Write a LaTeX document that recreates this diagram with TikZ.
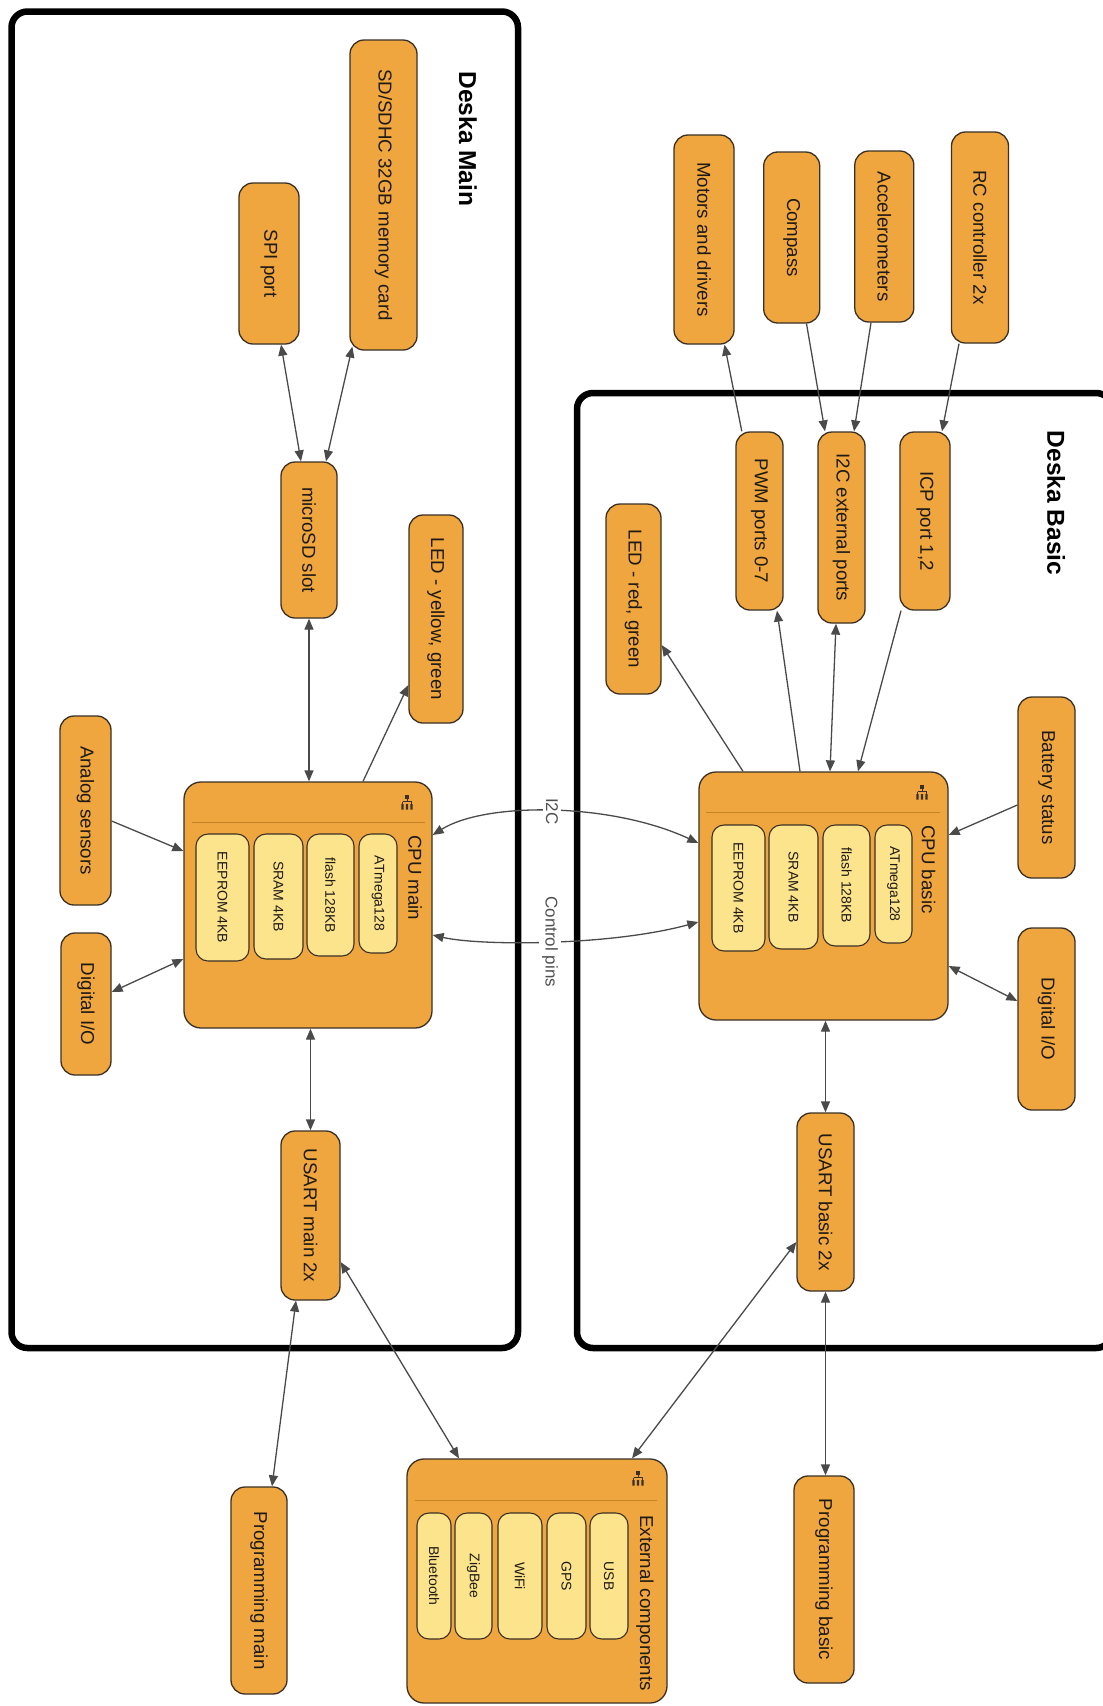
\documentclass[tikz,border=0pt]{standalone}
\usepackage{fontspec}
\setmainfont{Liberation Sans}
\usepackage{graphicx}
\usetikzlibrary{arrows.meta,calc}
\definecolor{orangef}{HTML}{EFA63E}
\definecolor{yellowf}{HTML}{FCE48C}
\definecolor{boxline}{HTML}{3A3026}
\definecolor{connc}{HTML}{4A4A4A}
\definecolor{sepc}{HTML}{C0832A}
\definecolor{lblc}{HTML}{505050}
\definecolor{textc}{HTML}{1E1A16}
\begin{document}
\begin{tikzpicture}[x=1pt,y=-1pt,
  obox/.style={draw=boxline, fill=orangef, rounded corners=14pt, line width=1.3pt, inner sep=0pt, text=textc, font=\fontsize{18.7}{20}\selectfont},
  bigbox/.style={draw=boxline, fill=orangef, rounded corners=17pt, line width=1.3pt, inner sep=0pt},
  ibox/.style={draw=boxline, fill=yellowf, rounded corners=12pt, line width=1.1pt, inner sep=0pt, text=textc, font=\fontsize{14}{16}\selectfont},
  btitle/.style={inner sep=0pt, text=textc, font=\fontsize{18.7}{20}\selectfont},
  ftitle/.style={inner sep=0pt, text=black, font=\fontsize{24.5}{26}\selectfont\bfseries},
  frame/.style={draw=black, line width=6.5pt, rounded corners=16pt},
  conn/.style={draw=connc, line width=1.3pt, >={Triangle[length=11pt,width=9pt]}},
  lbl/.style={fill=white, inner sep=3pt, text=lblc, font=\fontsize{17}{19}\selectfont},
  sepline/.style={draw=sepc, line width=1pt},
  orgicon/.pic={
    \fill[boxline] (-1.6,-1.6) rectangle (1.6,1.6);
    \draw[boxline, line width=0.4pt] (0,1.6) -- (0,4.5) (-4.5,4.5) -- (4.5,4.5) (-4.5,4.5) -- (-4.5,7) (4.5,4.5) -- (4.5,7);
    \fill[boxline] (-5.6,7) rectangle (-3.4,12.5) (-1.1,7) rectangle (1.1,12.5) (3.4,7) rectangle (5.6,12.5);
  }]
\clip (0,0) rectangle (1103,1706);
\fill[white] (0,0) rectangle (1103,1706);

% frames
\draw[frame] (11.5,11.5) rectangle (518,1348);
\draw[frame] (577,393) rectangle (1112,1348);
\node[ftitle] (tmain) at (468,139) {\rotatebox{-90}{Deska Main}};
\node[ftitle] (tbasic) at (1056,503) {\rotatebox{-90}{Deska Basic}};

% Deska Main nodes
\node[obox, minimum width=67pt, minimum height=310pt] (sd) at (383.5,195) {\rotatebox{-90}{SD/SDHC 32GB memory card}};
\node[obox, minimum width=60pt, minimum height=161pt] (spi) at (269,263.5) {\rotatebox{-90}{SPI port}};
\node[obox, minimum width=56pt, minimum height=156pt] (microsd) at (309,540) {\rotatebox{-90}{microSD slot}};
\node[obox, minimum width=54pt, minimum height=208pt] (ledy) at (436,619) {\rotatebox{-90}{LED - yellow, green}};
\node[obox, minimum width=51pt, minimum height=189pt] (analog) at (85.5,810.5) {\rotatebox{-90}{Analog sensors}};
\node[obox, minimum width=50pt, minimum height=142pt] (diom) at (86,1004) {\rotatebox{-90}{Digital I/O}};
\node[obox, minimum width=59pt, minimum height=169pt] (usartm) at (310.5,1215.5) {\rotatebox{-90}{USART main 2x}};
\node[obox, minimum width=56pt, minimum height=207pt] (progm) at (259,1590.5) {\rotatebox{-90}{Programming main}};

% CPU main
\node[bigbox, minimum width=248pt, minimum height=246pt] (cpum) at (308,905) {};
\draw[sepline] (192,822) -- (425,822);
\pic at (407,797) {orgicon};
\node[btitle, anchor=north] (cpumt) at (415,835) {\rotatebox{-90}{CPU main}};
\node[ibox, minimum width=38pt, minimum height=119pt] (atm) at (378,893.5) {\rotatebox{-90}{ATmega128}};
\node[ibox, minimum width=47pt, minimum height=122pt] (flm) at (330.5,895) {\rotatebox{-90}{flash 128KB}};
\node[ibox, minimum width=49pt, minimum height=125pt] (srm) at (278.5,896.5) {\rotatebox{-90}{SRAM 4KB}};
\node[ibox, minimum width=53pt, minimum height=127pt] (eem) at (222.5,897.5) {\rotatebox{-90}{EEPROM 4KB}};

% Deska Basic nodes
\node[obox, minimum width=60pt, minimum height=209pt] (motors) at (704,239.5) {\rotatebox{-90}{Motors and drivers}};
\node[obox, minimum width=56pt, minimum height=171pt] (compass) at (791.7,237.5) {\rotatebox{-90}{Compass}};
\node[obox, minimum width=59pt, minimum height=171pt] (accel) at (884.3,236.5) {\rotatebox{-90}{Accelerometers}};
\node[obox, minimum width=57pt, minimum height=211pt] (rc) at (980,237.5) {\rotatebox{-90}{RC controller 2x}};
\node[obox, minimum width=50pt, minimum height=178pt] (icp) at (925,521) {\rotatebox{-90}{ICP port 1,2}};
\node[obox, minimum width=47pt, minimum height=191pt] (i2cext) at (841.5,527.5) {\rotatebox{-90}{I2C external ports}};
\node[obox, minimum width=47pt, minimum height=178pt] (pwm) at (759.5,521) {\rotatebox{-90}{PWM ports 0-7}};
\node[obox, minimum width=55pt, minimum height=190pt] (ledr) at (633.5,599) {\rotatebox{-90}{LED - red, green}};
\node[obox, minimum width=57pt, minimum height=181pt] (batt) at (1046.5,787.5) {\rotatebox{-90}{Battery status}};
\node[obox, minimum width=57pt, minimum height=182pt] (diob) at (1046.5,1019) {\rotatebox{-90}{Digital I/O}};
\node[obox, minimum width=57pt, minimum height=178pt] (usartb) at (825.5,1202) {\rotatebox{-90}{USART basic 2x}};
\node[obox, minimum width=60pt, minimum height=207pt] (progb) at (824,1579.5) {\rotatebox{-90}{Programming basic}};

% CPU basic
\node[bigbox, minimum width=249pt, minimum height=248pt] (cpub) at (823.5,896) {};
\draw[sepline] (706,812) -- (940,812);
\pic at (922,787) {orgicon};
\node[btitle, anchor=north] (cpubt) at (928.5,825) {\rotatebox{-90}{CPU basic}};
\node[ibox, minimum width=37pt, minimum height=118pt] (atb) at (893.5,884) {\rotatebox{-90}{ATmega128}};
\node[ibox, minimum width=47pt, minimum height=121pt] (flb) at (846.5,885.5) {\rotatebox{-90}{flash 128KB}};
\node[ibox, minimum width=49pt, minimum height=124pt] (srb) at (793.5,887) {\rotatebox{-90}{SRAM 4KB}};
\node[ibox, minimum width=53pt, minimum height=126pt] (eeb) at (738.5,888) {\rotatebox{-90}{EEPROM 4KB}};

% External components
\node[bigbox, minimum width=260pt, minimum height=244pt] (ext) at (537,1581) {};
\draw[sepline] (415,1500) -- (657,1500);
\pic at (638,1473) {orgicon};
\node[btitle, anchor=north] (extt) at (645,1515) {\rotatebox{-90}{External components}};
\node[ibox, minimum width=38pt, minimum height=126pt] (usb) at (609,1576) {\rotatebox{-90}{USB}};
\node[ibox, minimum width=39pt, minimum height=126pt] (gps) at (566.5,1576) {\rotatebox{-90}{GPS}};
\node[ibox, minimum width=44pt, minimum height=126pt] (wifi) at (520,1576) {\rotatebox{-90}{WiFi}};
\node[ibox, minimum width=37pt, minimum height=126pt] (zig) at (473.5,1576) {\rotatebox{-90}{ZigBee}};
\node[ibox, minimum width=34pt, minimum height=126pt] (blue) at (434,1576) {\rotatebox{-90}{Bluetooth}};

% connectors - main
\draw[conn,<->] ($(spi.south)+(12,0)$) -- ($(microsd.north)+(-8,0)$);
\draw[conn,<->] ($(sd.south west)+(3,-4)$) -- ($(microsd.north)+(17,0)$);
\draw[conn,<->] (microsd.south) -- (microsd.south |- cpum.north);
\draw[conn,->] ($(cpum.north)+(55,0)$) -- ($(ledy.west)+(0,66)$);
\draw[conn,->] ($(analog.east)+(0,10.5)$) -- ($(cpum.west)+(0,-54)$);
\draw[conn,<->] ($(diom.east)+(0,-12)$) -- ($(cpum.west)+(0,54)$);
\draw[conn,<->] (usartm.north |- cpum.south) -- (usartm.north);
\draw[conn,<->] ($(usartm.south)+(-14.5,0)$) -- ($(progm.north)+(13,0)$);
\draw[conn,<->] ($(usartm.east)+(0,46.5)$) -- ($(ext.north)+(-78,0)$);

% connectors - basic
\draw[conn,<->] ($(usartb.west)+(0,40)$) -- ($(ext.north)+(95,0)$);
\draw[conn,<->] (usartb.south) -- (usartb.south |- progb.north);
\draw[conn,<->] (usartb.north |- cpub.south) -- (usartb.north);
\draw[conn,->] ($(batt.west)+(0,17.5)$) -- ($(cpub.east)+(0,-61)$);
\draw[conn,<->] ($(diob.west)+(0,-18)$) -- ($(cpub.east)+(0,70)$);
\draw[conn,->] ($(cpub.north)+(-80.5,0)$) -- ($(ledr.east)+(0,46)$);
\draw[conn,->] ($(cpub.north)+(-23.5,0)$) -- ($(pwm.south)+(17.5,0)$);
\draw[conn,<->] ($(i2cext.south)+(-5.5,0)$) -- ($(cpub.north)+(6.5,0)$);
\draw[conn,->] ($(icp.south)+(-24,0)$) -- ($(cpub.north)+(34.5,0)$);
\draw[conn,->] ($(pwm.north)+(-17.7,0)$) -- ($(motors.south)+(20.5,0)$);
\draw[conn,->] ($(compass.south)+(14.8,0)$) -- ($(i2cext.north)+(-16.5,0)$);
\draw[conn,->] ($(accel.south)+(-13.3,0)$) -- ($(i2cext.north)+(12.5,0)$);
\draw[conn,->] ($(rc.south)+(-21,0)$) -- ($(icp.north)+(17,0)$);

% connectors between CPUs
\draw[conn,<->] ($(cpum.east)+(0,-70)$) .. controls (485,802) and (610,802) .. node[lbl, pos=0.5] (li2c) {\rotatebox{-90}{I2C}} ($(cpub.west)+(0,-53)$);
\draw[conn,<->] ($(cpum.east)+(0,30)$) .. controls (480,946) and (610,946) .. node[lbl, pos=0.5] (lctl) {\rotatebox{-90}{Control pins}} ($(cpub.west)+(0,26)$);
\end{tikzpicture}
\end{document}
